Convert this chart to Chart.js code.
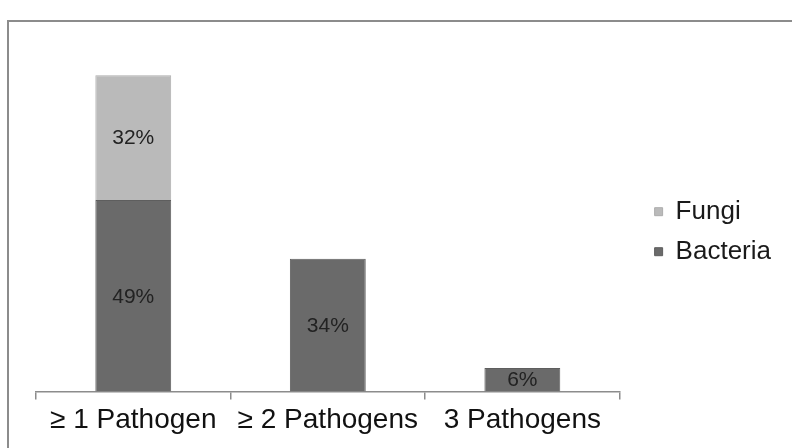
<!DOCTYPE html>
<html>
<head>
<meta charset="utf-8">
<script src="https://cdn.jsdelivr.net/npm/chart.js@4/dist/chart.umd.min.js"></script>
<style>
  html, body { margin: 0; padding: 0; background: #fff; }
  #wrap { position: relative; width: 792px; height: 448px; overflow: hidden; }
  #frame { position: absolute; left: 7px; top: 20px; width: 900px; height: 600px;
           border-left: 2px solid #8c8c8c; border-top: 2px solid #8c8c8c; box-sizing: border-box; }
  canvas { position: absolute; left: 0; top: 0; }
</style>
</head>
<body>
<div id="wrap">
  <div id="frame"></div>
  <canvas id="c" width="792" height="448"></canvas>
</div>
<script>
const categories = ["≥ 1 Pathogen", "≥ 2 Pathogens", "3 Pathogens"];
const bacteria = [49, 34, 6];
const fungi = [32, 0, 0];
const seriesNames = ["Bacteria", "Fungi"];

const FONT = '"Liberation Sans", Arial, sans-serif';

const labelPlugin = {
  id: 'barLabels',
  afterDatasetsDraw(chart) {
    const ctx = chart.ctx;
    ctx.save();
    ctx.font = '21px ' + FONT;
    ctx.fillStyle = '#222';
    ctx.textAlign = 'center';
    ctx.textBaseline = 'middle';
    chart.data.datasets.forEach((ds, di) => {
      const meta = chart.getDatasetMeta(di);
      meta.data.forEach((bar, i) => {
        const v = ds.data[i];
        if (!v) return;
        const p = bar.getProps(['x', 'y', 'base'], true);
        ctx.fillText(v + '%', p.x, (p.y + p.base) / 2 + 1);
      });
    });
    ctx.restore();
  }
};

new Chart(document.getElementById('c'), {
  type: 'bar',
  data: {
    labels: categories,
    datasets: [
      { label: seriesNames[0], data: bacteria, backgroundColor: '#6a6a6a', borderColor: '#5e5e5e', borderWidth: 1 },
      { label: seriesNames[1], data: fungi, backgroundColor: '#bababa', borderColor: '#adadad', borderWidth: 1 }
    ]
  },
  options: {
    responsive: false,
    animation: false,
    layout: { padding: { left: 36, top: 40, bottom: 7, right: 11 } },
    plugins: {
      legend: {
        position: 'right',
        fullSize: false,
        reverse: true,
        title: { display: true, text: ' ', padding: 10, font: { size: 10 } },
        labels: {
          boxWidth: 8, boxHeight: 8, padding: 14, color: '#1a1a1a',
          font: { family: FONT, size: 26 }
        }
      },
      tooltip: { enabled: false }
    },
    scales: {
      x: {
        stacked: true,
        offset: true,
        grid: { offset: true, drawOnChartArea: false, drawTicks: true, tickLength: 8, color: '#8c8c8c', lineWidth: 1.5 },
        border: { display: true, color: '#8c8c8c', width: 1.5 },
        ticks: { color: '#111', padding: 4, font: { family: FONT, size: 28 } }
      },
      y: {
        stacked: true,
        display: false,
        min: 0,
        max: 90
      },
      spacer: {
        type: 'linear',
        position: 'right',
        display: true,
        grid: { display: false },
        border: { display: false },
        ticks: { display: false },
        afterFit(scale) { scale.width = 21; }
      }
    },
    datasets: { bar: { categoryPercentage: 1, barPercentage: 0.39 } }
  },
  plugins: [labelPlugin]
});
</script>
</body>
</html>
